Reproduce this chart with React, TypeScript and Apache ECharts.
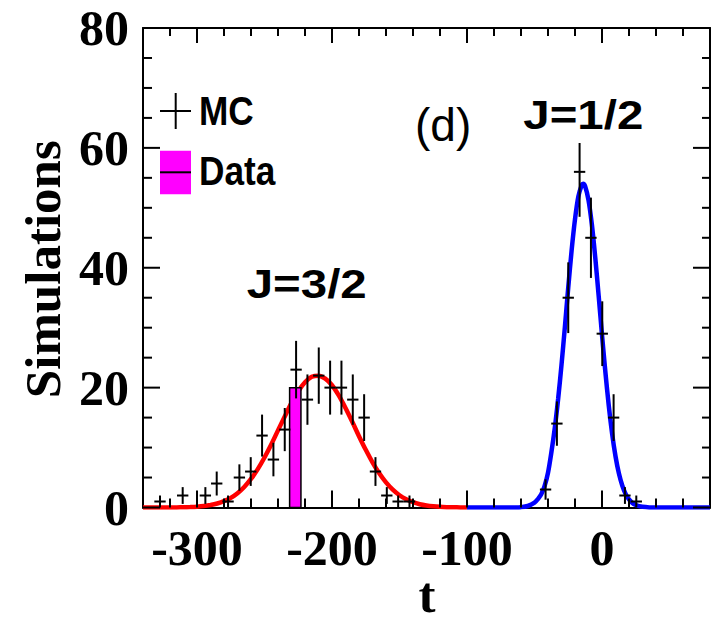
import React, { useEffect, useRef } from "react";
import * as echarts from "echarts";

// ---- data ----
const xMin = -340;
const xMax = 80;
const yMin = 0;
const yMax = 80;
const binWidth = 8.4;
const majorTicksX = [-300, -200, -100, 0];
const minorTicksX = [-320, -280, -260, -240, -220, -180, -160, -140, -120, -80, -60, -40, -20, 20, 40, 60];
const majorTicksY = [0, 20, 40, 60, 80];
const minorTicksY = [5, 10, 15, 25, 30, 35, 45, 50, 55, 65, 70, 75];

// MC histogram (non-empty bins): centres, counts, statistical errors
const mcBinCenters = [
  -327.4, -310.6, -293.8, -285.4, -277.0, -268.6, -260.2, -251.8, -243.4, -235.0,
  -226.6, -218.2, -209.8, -201.4, -193.0, -184.6, -176.2, -167.8, -159.4, -151.0,
  -142.6, -41.8, -33.4, -25.0, -16.6, -8.2, 0.2, 8.6, 17.0, 25.4,
];
const mcCounts = [
  1, 2, 2, 4, 1, 5, 6, 12, 8, 13,
  23, 18, 22, 20, 20, 18, 15, 6, 2, 1,
  1, 3, 14, 35, 56, 45, 29, 15, 2, 1,
];
const mcErrors = [
  1, 1.4, 1.4, 2, 1, 2.2, 2.4, 3.5, 2.8, 3.6,
  4.8, 4.2, 4.7, 4.5, 4.5, 4.2, 3.9, 2.4, 1.4, 1,
  1, 1.7, 3.7, 5.9, 7.5, 6.7, 5.4, 3.9, 1.4, 1,
];

// Data histogram: one filled bin
const dataBinLow = -231.4;
const dataBinHigh = -223.0;
const dataCount = 20;

// Fit curve J=3/2 (red)
const redT = [
  -340, -335, -330, -325, -320, -315, -310, -305, -300, -295, -290, -285, -280, -275, -270,
  -265, -260, -255, -250, -245, -240, -235, -230, -225, -220, -215, -210, -205, -200, -195,
  -190, -185, -180, -175, -170, -165, -160, -155, -150, -145, -140, -135, -130, -125, -120,
  -115, -110, -105, -100,
];
const redY = [
  0, 0, 0, 0.01, 0.01, 0.02, 0.04, 0.08, 0.14, 0.24, 0.41, 0.67, 1.06, 1.61, 2.39,
  3.43, 4.76, 6.4, 8.34, 10.5, 12.87, 15.2, 17.47, 19.4, 20.9, 21.8, 22.0, 21.5, 20.4, 18.7,
  16.6, 14.3, 11.9, 9.62, 7.53, 5.7, 4.19, 2.98, 2.05, 1.37, 0.88, 0.55, 0.34, 0.2, 0.11,
  0.06, 0.03, 0.02, 0.01,
];

// Fit curve J=1/2 (blue)
const blueT = [
  -100, -90, -80, -70, -65, -60, -55, -50, -47.5, -45, -42.5, -40, -37.5, -35, -32.5, -30,
  -27.5, -25, -22.5, -20, -17.5, -15, -14, -12.5, -10, -7.5, -5, -2.5, 0, 2.5, 5, 7.5, 10,
  12.5, 15, 17.5, 20, 22.5, 25, 27.5, 30, 35, 40, 50, 60, 70, 80,
];
const blueY = [
  0, 0, 0, 0, 0.01, 0.06, 0.25, 0.8, 1.4, 2.2, 3.6, 5.8, 9.2, 13.2, 18.1, 23.8,
  30.1, 36.7, 42.9, 48.1, 51.9, 53.8, 54.0, 53.6, 51.3, 47.2, 41.7, 35.4, 28.8, 22.6, 17.0, 12.3, 8.55,
  5.7, 3.66, 2.26, 1.34, 0.76, 0.42, 0.22, 0.11, 0.02, 0, 0, 0, 0, 0,
];

const SERIF = "'Liberation Serif', 'Times New Roman', serif";
const SANS = "'Liberation Sans', Arial, Helvetica, sans-serif";

// frame tick lines, placed through api.coord (inward pointing, ROOT style)
function frameTickLines(api: any): any[] {
  const st = () => ({ stroke: "#000", lineWidth: 2 });
  const out: any[] = [];
  const xTicks = (vals: number[], lb: number, lt: number) =>
    vals.forEach((v) => {
      const b = api.coord([v, yMin]);
      const t = api.coord([v, yMax]);
      out.push({ type: "line", shape: { x1: b[0], y1: b[1], x2: b[0], y2: b[1] - lb }, style: st() });
      out.push({ type: "line", shape: { x1: t[0], y1: t[1], x2: t[0], y2: t[1] + lt }, style: st() });
    });
  const yTicks = (vals: number[], ll: number, lr: number) =>
    vals.forEach((v) => {
      const l = api.coord([xMin, v]);
      const r = api.coord([xMax, v]);
      out.push({ type: "line", shape: { x1: l[0], y1: l[1], x2: l[0] + ll, y2: l[1] }, style: st() });
      out.push({ type: "line", shape: { x1: r[0], y1: r[1], x2: r[0] - lr, y2: r[1] }, style: st() });
    });
  xTicks(majorTicksX, 17, 15);
  xTicks(minorTicksX, 9, 8);
  yTicks(majorTicksY, 17, 17);
  yTicks(minorTicksY, 9, 8);
  return out;
}

function buildOption(): any {
  const black = "#000";
  const lineSt = { color: black, width: 2 };
  const xBase = {
    type: "value",
    min: xMin,
    max: xMax,
    gridIndex: 0,
    splitLine: { show: false },
    axisLine: { show: true, onZero: false, lineStyle: lineSt },
    axisTick: { show: false },
  };
  const yBase = {
    type: "value",
    min: yMin,
    max: yMax,
    interval: 20,
    gridIndex: 0,
    splitLine: { show: false },
    axisLine: { show: true, onZero: false, lineStyle: lineSt },
    axisTick: { show: false },
  };

  return {
    animation: false,
    backgroundColor: "#fff",
    grid: {
      left: 143,
      right: 6,
      top: 28,
      bottom: 115.5,
      outerBoundsMode: "none",
      containLabel: false,
    },
    xAxis: [
      {
        ...xBase,
        position: "bottom",
        axisLabel: {
          show: true,
          customValues: majorTicksX,
          margin: 15,
          fontFamily: SERIF,
          fontWeight: "bold",
          fontSize: 50,
          color: black,
        },
      },
      {
        ...xBase,
        position: "top",
        axisLabel: { show: false },
      },
    ],
    yAxis: [
      {
        ...yBase,
        position: "left",
        axisLabel: {
          show: true,
          margin: 14,
          fontFamily: SERIF,
          fontWeight: "bold",
          fontSize: 50,
          color: black,
        },
      },
      {
        ...yBase,
        position: "right",
        axisLabel: { show: false },
      },
    ],
    series: [
      {
        name: "fit32",
        type: "line",
        xAxisIndex: 0,
        yAxisIndex: 0,
        data: redT.map((t, i) => [t, redY[i]]),
        showSymbol: false,
        smooth: 0.3,
        lineStyle: { color: "#ff0000", width: 4.5 },
        z: 2,
      },
      {
        name: "fit12",
        type: "line",
        xAxisIndex: 0,
        yAxisIndex: 0,
        data: blueT.map((t, i) => [t, blueY[i]]),
        showSymbol: false,
        smooth: 0.3,
        lineStyle: { color: "#0000ff", width: 4.5 },
        z: 2,
      },
      {
        name: "Data",
        type: "custom",
        xAxisIndex: 0,
        yAxisIndex: 0,
        data: [[dataBinLow, dataBinHigh, dataCount]],
        encode: { x: [0, 1], y: 2 },
        renderItem: (params: any, api: any) => {
          const p1 = api.coord([api.value(0), api.value(2)]);
          const p2 = api.coord([api.value(1), 0]);
          return {
            type: "rect",
            shape: { x: p1[0], y: p1[1], width: p2[0] - p1[0], height: p2[1] - p1[1] },
            style: { fill: "#ff00ff", stroke: "#000", lineWidth: 1.5 },
          };
        },
        z: 3,
      },
      {
        name: "MC",
        type: "custom",
        xAxisIndex: 0,
        yAxisIndex: 0,
        data: mcBinCenters.map((c, i) => [c, mcCounts[i], mcErrors[i]]),
        encode: { x: 0, y: 1 },
        renderItem: (params: any, api: any) => {
          const x = api.value(0);
          const y = api.value(1);
          const e = api.value(2);
          const pl = api.coord([x - binWidth / 2, y]);
          const pr = api.coord([x + binWidth / 2, y]);
          const pt = api.coord([x, y + e]);
          const pb = api.coord([x, Math.max(0, y - e)]);
          const st = { stroke: "#000", lineWidth: 2 };
          return {
            type: "group",
            children: [
              { type: "line", shape: { x1: pl[0], y1: pl[1], x2: pr[0], y2: pr[1] }, style: st },
              { type: "line", shape: { x1: pt[0], y1: pt[1], x2: pb[0], y2: pb[1] }, style: st },
            ],
          };
        },
        z: 4,
      },
      {
        name: "frame",
        type: "custom",
        xAxisIndex: 0,
        yAxisIndex: 0,
        data: [[xMin, yMin]],
        encode: { x: 0, y: 1 },
        renderItem: (params: any, api: any) => ({ type: "group", children: frameTickLines(api) }),
        z: 6,
      },
    ],
    graphic: [
      // legend: MC
      { type: "line", shape: { x1: 160, y1: 111, x2: 191, y2: 111 }, style: { stroke: "#000", lineWidth: 2 }, z: 10 },
      { type: "line", shape: { x1: 175.7, y1: 93, x2: 175.7, y2: 129 }, style: { stroke: "#000", lineWidth: 2 }, z: 10 },
      {
        type: "text",
        x: 199,
        y: 111.1,
        scaleX: 0.88,
        style: { text: "MC", font: `bold 40px ${SANS}`, fill: "#000", textAlign: "left", textVerticalAlign: "middle" },
        z: 10,
      },
      // legend: Data
      { type: "rect", shape: { x: 160, y: 150.7, width: 31, height: 43.6 }, style: { fill: "#ff00ff" }, z: 10 },
      { type: "line", shape: { x1: 160, y1: 172.3, x2: 191, y2: 172.3 }, style: { stroke: "#000", lineWidth: 2 }, z: 11 },
      {
        type: "text",
        x: 199,
        y: 171.1,
        scaleX: 0.88,
        style: { text: "Data", font: `bold 40px ${SANS}`, fill: "#000", textAlign: "left", textVerticalAlign: "middle" },
        z: 10,
      },
      // annotations
      {
        type: "text",
        x: 415,
        y: 125.3,
        style: { text: "(d)", font: `46px ${SANS}`, fill: "#000", textAlign: "left", textVerticalAlign: "middle" },
        z: 10,
      },
      // white label box behind J=1/2 (covers the top of the tallest error bar, as in the reference)
      { type: "rect", shape: { x: 515, y: 92, width: 136, height: 51 }, style: { fill: "#fff" }, z: 9 },
      {
        type: "text",
        x: 523.3,
        y: 114.4,
        scaleX: 1.186,
        style: { text: "J=1/2", font: `bold 40px ${SANS}`, fill: "#000", textAlign: "left", textVerticalAlign: "middle" },
        z: 10,
      },
      {
        type: "text",
        x: 246.7,
        y: 283.4,
        scaleX: 1.186,
        style: { text: "J=3/2", font: `bold 40px ${SANS}`, fill: "#000", textAlign: "left", textVerticalAlign: "middle" },
        z: 10,
      },
      // axis titles
      {
        type: "text",
        x: 42.8,
        y: 269.2,
        rotation: Math.PI / 2,
        style: { text: "Simulations", font: `bold 51px ${SERIF}`, fill: "#000", textAlign: "center", textVerticalAlign: "middle" },
        z: 10,
      },
      {
        type: "text",
        x: 427,
        y: 594.5,
        style: { text: "t", font: `bold 51px ${SERIF}`, fill: "#000", textAlign: "center", textVerticalAlign: "middle" },
        z: 10,
      },
    ],
  };
}

export default function App() {
  const ref = useRef<HTMLDivElement>(null);
  useEffect(() => {
    if (!ref.current) return;
    const chart = echarts.init(ref.current, null, { renderer: "svg" });
    chart.setOption(buildOption());
    return () => chart.dispose();
  }, []);
  return (
    <div
      ref={ref}
      style={{ position: "absolute", left: 0, top: 0, width: 716, height: 623, background: "#fff" }}
    />
  );
}
